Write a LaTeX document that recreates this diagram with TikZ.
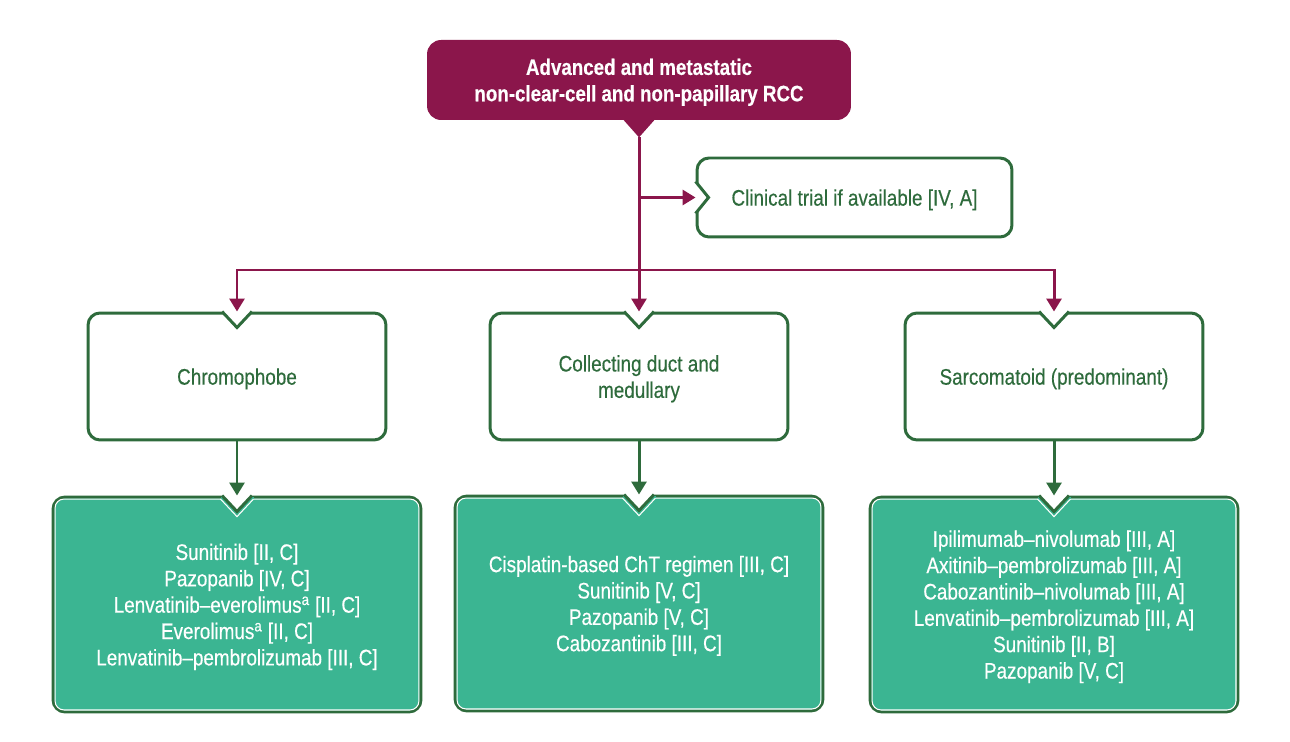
\documentclass[tikz,border=0pt]{standalone}
\usepackage{fontspec}
\setmainfont[FakeStretch=0.84,FakeBold=0.4]{Liberation Sans}
\usetikzlibrary{arrows.meta,calc,positioning}

\definecolor{rccmag}{HTML}{8B164B}
\definecolor{rccgreen}{HTML}{2E6B3C}
\definecolor{rccteal}{HTML}{3BB592}

% notch cut into the top edge of a box
\newcommand{\notchtop}[1]{%
  \fill[white] ($(#1.north)+(-17.8,-3)$) -- ($(#1.north)+(0,16)$) -- ($(#1.north)+(17.8,-3)$) -- cycle;
  \draw[rccgreen,line width=1.7pt] ($(#1.north)+(-15,0)$) -- ($(#1.north)+(0,16)$) -- ($(#1.north)+(15,0)$);
}
% notch cut into the left edge of a box
\newcommand{\notchleft}[1]{%
  \fill[white] ($(#1.west)+(-3,-19.7)$) -- ($(#1.west)+(13,0)$) -- ($(#1.west)+(-3,19.7)$) -- cycle;
  \draw[rccgreen,line width=1.7pt] ($(#1.west)+(0,-16)$) -- ($(#1.west)+(13,0)$) -- ($(#1.west)+(0,16)$);
}
% thin white line inside the filled boxes
\newcommand{\innerline}[1]{%
  \draw[white,line width=0.6pt,rounded corners=0.18cm] ($(#1.north west)+(3.5,3.5)$) rectangle ($(#1.south east)+(-3.5,-3.5)$);
  \fill[rccteal] ($(#1.north)+(-16.5,1.6)$) rectangle ($(#1.north)+(16.5,5)$);
  \draw[white,line width=0.6pt] ($(#1.north)+(-16.5,3.5)$) -- ($(#1.north)+(0,21.1)$) -- ($(#1.north)+(16.5,3.5)$);
}

\begin{document}
\begin{tikzpicture}[x=0.02cm,y=-0.02cm,
    font=\fontsize{12.8}{15}\selectfont, text depth=0pt,
    mainbox/.style={fill=rccmag, text=white, font=\fontsize{12.7}{15}\selectfont\bfseries,
      rounded corners=0.28cm, minimum width=8.48cm, minimum height=1.6cm, align=center},
    trialbox/.style={draw=rccgreen, line width=1.7pt, text=rccgreen, rounded corners=0.24cm,
      minimum width=6.3cm, minimum height=1.58cm, align=center},
    typebox/.style={draw=rccgreen, line width=1.7pt, text=rccgreen, rounded corners=0.24cm,
      minimum width=5.96cm, minimum height=2.54cm, align=center},
    txbox/.style={draw=rccgreen, fill=rccteal, line width=1.7pt, text=white, rounded corners=0.24cm,
      minimum width=7.36cm, minimum height=4.3cm, align=center},
    magline/.style={draw=rccmag, line width=1.7pt, -{Triangle[width=0.3cm,length=0.26cm]}},
    greenline/.style={draw=rccgreen, line width=1.7pt, -{Triangle[width=0.3cm,length=0.26cm]}}]

  \useasboundingbox (0,0) rectangle (1290,742);

  % top box
  \node[mainbox] (rcc) at (639,80) {Advanced and metastatic\\non-clear-cell and non-papillary RCC};
  \fill[rccmag] ($(rcc.south)+(-16,-1)$) -- ($(rcc.south)+(0,17)$) -- ($(rcc.south)+(16,-1)$) -- cycle;
  \coordinate (tip) at ($(rcc.south)+(0,17)$);
  \coordinate (split) at (639,270);

  \node[trialbox] (trial) at (854.5,197.5) {Clinical trial if available [IV, A]};
  \notchleft{trial}

  % histology
  \node[typebox] (chromo) at (237,376.5) {Chromophobe};
  \node[typebox] (duct) at (639,376.5) {Collecting duct and\\medullary};
  \node[typebox] (sarco) at (1054,376.5) {Sarcomatoid (predominant)};
  \foreach \n in {chromo,duct,sarco} {\notchtop{\n}}

  % treatment
  \node[txbox] (chromotx) at (237,604.5) {Sunitinib [II, C]\\Pazopanib [IV, C]\\Lenvatinib--everolimus\textsuperscript{a} [II, C]\\Everolimus\textsuperscript{a} [II, C]\\Lenvatinib--pembrolizumab [III, C]};
  \node[txbox] (ducttx) at (639,603.5) {Cisplatin-based ChT regimen [III, C]\\Sunitinib [V, C]\\Pazopanib [V, C]\\Cabozantinib [III, C]};
  \node[txbox] (sarcotx) at (1054,604.5) {Ipilimumab--nivolumab [III, A]\\Axitinib--pembrolizumab [III, A]\\Cabozantinib--nivolumab [III, A]\\Lenvatinib--pembrolizumab [III, A]\\Sunitinib [II, B]\\Pazopanib [V, C]};
  \foreach \n in {chromotx,ducttx,sarcotx} {\innerline{\n}\notchtop{\n}}

  % connectors
  \draw[magline] (tip) -- (duct.north);
  \draw[magline] (split) -| (chromo.north);
  \draw[magline] (split) -| (sarco.north);
  \draw[magline] (tip |- trial.west) -- (trial.west);
  \draw[greenline] (chromo.south) -- (chromotx.north);
  \draw[greenline] (duct.south) -- (ducttx.north);
  \draw[greenline] (sarco.south) -- (sarcotx.north);
\end{tikzpicture}
\end{document}
